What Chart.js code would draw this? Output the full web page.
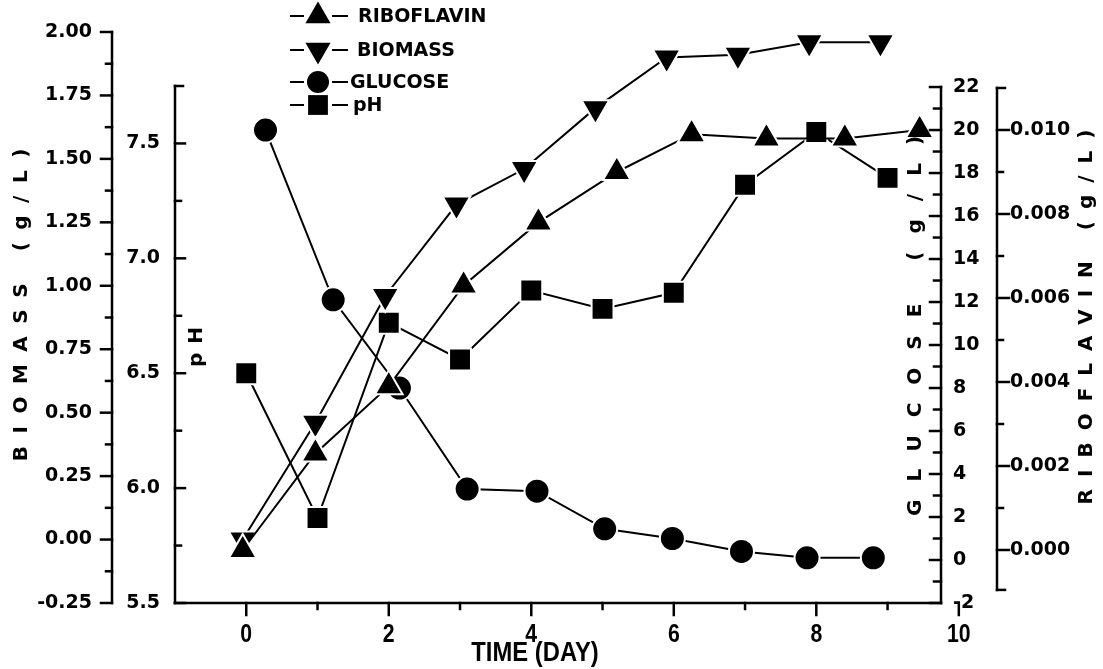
<!DOCTYPE html>
<html lang="en">
  <head>
    <meta charset="UTF-8" />
    <title>Riboflavin, biomass, glucose and pH</title>
    <script src="https://cdn.jsdelivr.net/npm/chart.js"></script>
    <style>
      html, body { margin: 0; padding: 0; background: #fff; }
      #wrap { position: relative; width: 1103px; height: 669px; }
    </style>
  </head>
  <body>
    <div id="wrap"><canvas id="fermChart"></canvas></div>

    <script>
      // sampling days and measured values for each series
      const riboDays = [-0.05, 0.97, 2, 3.05, 4.1, 5.2, 6.25, 7.3, 8.4, 9.45];
      const riboflavin = [0.0, 0.0023, 0.0039, 0.0063, 0.0078, 0.009, 0.0099, 0.0098, 0.0098, 0.01];

      const biomassDays = [-0.05, 0.97, 1.95, 2.95, 3.9, 4.9, 5.9, 6.9, 7.9, 8.9];
      const biomass = [0.0, 0.46, 0.96, 1.32, 1.46, 1.7, 1.9, 1.91, 1.96, 1.96];

      const glucoseDays = [0.27, 1.22, 2.15, 3.1, 4.08, 5.03, 5.98, 6.95, 7.87, 8.8];
      const glucose = [20.0, 12.1, 8.0, 3.3, 3.2, 1.45, 1.0, 0.4, 0.1, 0.1];

      const phDays = [0, 1, 2, 3, 4, 5, 6, 7, 8, 9];
      const ph = [6.5, 5.87, 6.72, 6.56, 6.86, 6.78, 6.85, 7.32, 7.55, 7.35];

      // tick labels
      const dayTicks = [0, 2, 4, 6, 8, 10];
      const biomassTicks = [-0.25, 0, 0.25, 0.5, 0.75, 1.0, 1.25, 1.5, 1.75, 2.0];
      const phTicks = [5.5, 6.0, 6.5, 7.0, 7.5];
      const glucoseTicks = [-2, 0, 2, 4, 6, 8, 10, 12, 14, 16, 18, 20, 22];
      const riboTicks = [0, 0.002, 0.004, 0.006, 0.008, 0.01];

      const pts = (xs, ys) => xs.map((d, i) => ({ x: d, y: ys[i] }));

      const tickFont = { family: "'DejaVu Sans', sans-serif", size: 19, weight: "bold" };
      const narrow = "bold %spx 'Liberation Sans', Arial, sans-serif";

      function fixedWidth(w) {
        return (scale) => { scale.width = w; };
      }
      function useTicks(list) {
        return (scale) => { scale.ticks = list.map((v) => ({ value: v })); };
      }

      const common = {
        borderColor: "#000",
        backgroundColor: "#000",
        borderWidth: 2,
        pointBackgroundColor: "#000",
        pointBorderColor: "#fff",
        pointBorderWidth: 2,
        tension: 0,
        fill: false,
        clip: false,
      };

      function drawMarker(ctx, style, rot, r, x, y) {
        ctx.beginPath();
        if (style === "circle") {
          ctx.arc(x, y, r, 0, Math.PI * 2);
        } else if (style === "rect") {
          const s = r * Math.SQRT1_2;
          ctx.rect(x - s, y - s, 2 * s, 2 * s);
        } else {
          let a = (rot * Math.PI) / 180;
          for (let k = 0; k < 3; k++) {
            const px = x + Math.sin(a) * r;
            const py = y - Math.cos(a) * r;
            if (k) ctx.lineTo(px, py); else ctx.moveTo(px, py);
            a += (2 * Math.PI) / 3;
          }
          ctx.closePath();
        }
        ctx.fill();
      }

      function seg(ctx, x1, y1, x2, y2) {
        ctx.beginPath();
        ctx.moveTo(x1, y1);
        ctx.lineTo(x2, y2);
        ctx.stroke();
      }

      // vertical axis line with major ticks, minor ticks halfway, and end caps
      function vAxis(ctx, scale, xPos, from, to, majors, dir, majLen, minLen, caps) {
        const py = (v) => scale.getPixelForValue(v);
        seg(ctx, xPos, py(from), xPos, py(to));
        majors.forEach((v) => seg(ctx, xPos, py(v), xPos + dir * majLen, py(v)));
        for (let i = 0; i < majors.length - 1; i++) {
          const m = (majors[i] + majors[i + 1]) / 2;
          seg(ctx, xPos, py(m), xPos + dir * minLen, py(m));
        }
        (caps || []).forEach((v) => seg(ctx, xPos, py(v), xPos + dir * 8, py(v)));
      }

      function vTitle(ctx, text, cx, cy, spacing) {
        ctx.save();
        ctx.translate(cx, cy);
        ctx.rotate(-Math.PI / 2);
        ctx.font = "bold 20px 'DejaVu Sans', sans-serif";
        ctx.letterSpacing = spacing + "px";
        ctx.textAlign = "center";
        ctx.textBaseline = "middle";
        ctx.fillText(text, spacing / 2, 0);
        ctx.restore();
      }

      function narrowText(ctx, text, x, y, size) {
        ctx.save();
        ctx.translate(x, y);
        ctx.scale(0.85, 1);
        ctx.font = narrow.replace("%s", size);
        ctx.textAlign = "center";
        ctx.textBaseline = "middle";
        ctx.fillText(text, 0, 0);
        ctx.restore();
      }

      // axis lines, ticks, titles and the legend
      const axesPlugin = {
        id: "axesPlugin",
        afterDraw(chart) {
          const ctx = chart.ctx;
          const { x, yBio, yPh, yGlu, yRibo } = chart.scales;
          const area = chart.chartArea;

          ctx.save();
          ctx.strokeStyle = "#000";
          ctx.fillStyle = "#000";
          ctx.lineWidth = 2.5;
          ctx.lineCap = "square";

          // time axis
          seg(ctx, area.left, area.bottom, area.right, area.bottom);
          dayTicks.forEach((d) => {
            const px = x.getPixelForValue(d);
            seg(ctx, px, area.bottom, px, area.bottom + 12);
            narrowText(ctx, String(d), px, area.bottom + 32, 25);
          });
          for (let d = 1; d < 10; d += 2) {
            const px = x.getPixelForValue(d);
            seg(ctx, px, area.bottom, px, area.bottom + 6);
          }
          narrowText(ctx, "TIME (DAY)", 535, area.bottom + 50, 28);

          vAxis(ctx, yBio, yBio.right, -0.25, 2.0, biomassTicks, -1, 11, 6);
          vAxis(ctx, yPh, yPh.right, 5.5, 7.75, phTicks, 1, 10, 6, [7.75]);
          vAxis(ctx, yGlu, area.right, -2, 22, glucoseTicks, -1, 11, 7);
          vAxis(ctx, yRibo, yRibo.left, -0.00095, 0.011, riboTicks, 1, 12, 6, [0.011, -0.00095]);

          vTitle(ctx, "BIOMASS (g/L)", 22, 305, 12.5);
          vTitle(ctx, "pH", 197, 347, 9);
          vTitle(ctx, "GLUCOSE (g/L)", 916, 326, 18);
          vTitle(ctx, "RIBOFLAVIN (g/L)", 1087, 317, 12);

          // legend: line - marker - line, then the series name
          const rowY = [16, 50, 82, 105];
          const textX = [358, 357, 350, 353];
          ctx.lineWidth = 2;
          ctx.lineCap = "butt";
          ctx.font = "bold 19px 'DejaVu Sans', sans-serif";
          ctx.textAlign = "left";
          ctx.textBaseline = "middle";
          chart.data.datasets.forEach((ds, i) => {
            const y = rowY[i];
            seg(ctx, 290, y, 304, y);
            seg(ctx, 332, y, 348, y);
            drawMarker(ctx, ds.pointStyle, ds.pointRotation || 0, ds.pointRadius - 1.5, 318, y);
            ctx.fillText(ds.label, textX[i], y + 1);
          });
          ctx.restore();
        },
      };

      new Chart(document.getElementById("fermChart"), {
        type: "line",
        data: {
          datasets: [
            { ...common, label: "RIBOFLAVIN", data: pts(riboDays, riboflavin), yAxisID: "yRibo",
              pointStyle: "triangle", pointRotation: 0, pointRadius: 16, pointHoverRadius: 16 },
            { ...common, label: "BIOMASS", data: pts(biomassDays, biomass), yAxisID: "yBio",
              pointStyle: "triangle", pointRotation: 180, pointRadius: 16, pointHoverRadius: 16 },
            { ...common, label: "GLUCOSE", data: pts(glucoseDays, glucose), yAxisID: "yGlu",
              pointStyle: "circle", pointRadius: 12.5, pointHoverRadius: 12.5 },
            { ...common, label: "pH", data: pts(phDays, ph), yAxisID: "yPh",
              pointStyle: "rect", pointRadius: 15.5, pointHoverRadius: 15.5 },
          ],
        },
        options: {
          responsive: true,
          maintainAspectRatio: false,
          animation: false,
          layout: { padding: { top: 32, left: 0, right: 0, bottom: 0 } },
          plugins: { legend: { display: false }, tooltip: { enabled: false } },
          scales: {
            x: {
              type: "linear",
              min: -1,
              max: 9.75,
              grid: { display: false },
              border: { display: false },
              ticks: { display: false },
              afterFit: (s) => { s.height = 66; },
            },
            yBio: {
              position: "left",
              weight: 1,
              min: -0.25,
              max: 2.0,
              afterBuildTicks: useTicks(biomassTicks),
              afterFit: fixedWidth(112),
              grid: { display: false, drawTicks: false },
              border: { display: false },
              ticks: { autoSkip: false, padding: 20, color: "#000", font: tickFont,
                       callback: (v) => v.toFixed(2) },
            },
            yPh: {
              position: "left",
              weight: 0,
              min: 5.5,
              max: 7.985,
              afterBuildTicks: useTicks(phTicks),
              afterFit: fixedWidth(63),
              grid: { display: false, drawTicks: false },
              border: { display: false },
              ticks: { autoSkip: false, padding: 15, color: "#000", font: tickFont,
                       callback: (v) => v.toFixed(1) },
            },
            yGlu: {
              position: "right",
              weight: 0,
              min: -2,
              max: 24.56,
              afterBuildTicks: useTicks(glucoseTicks),
              afterFit: fixedWidth(56),
              grid: { display: false, drawTicks: false },
              border: { display: false },
              ticks: { autoSkip: false, padding: 12, color: "#000", font: tickFont,
                       callback: (v) => String(v) },
            },
            yRibo: {
              position: "right",
              weight: 1,
              min: -0.001262,
              max: 0.012333,
              afterBuildTicks: useTicks(riboTicks),
              afterFit: fixedWidth(106),
              grid: { display: false, drawTicks: false },
              border: { display: false },
              ticks: { autoSkip: false, padding: 13, color: "#000", font: tickFont,
                       callback: (v) => v.toFixed(3) },
            },
          },
        },
        plugins: [axesPlugin],
      });
    </script>
  </body>
</html>
